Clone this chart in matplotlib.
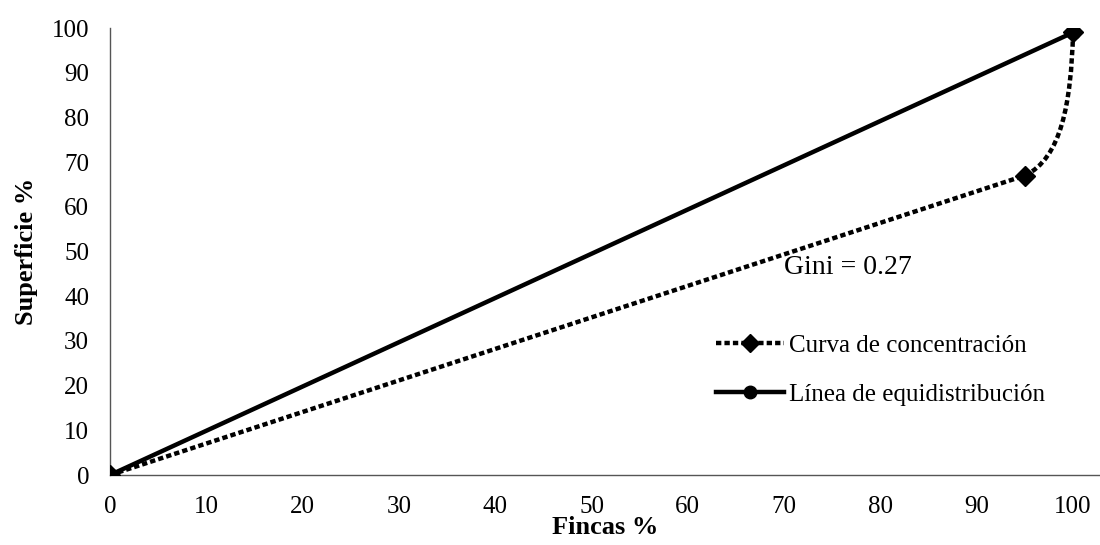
import matplotlib
matplotlib.use('Agg')
import matplotlib.pyplot as plt
from matplotlib.path import Path
from matplotlib.patches import PathPatch
from matplotlib.lines import Line2D

# data
fincas = [0, 95, 100]          # Fincas % (curva de concentracion)
superficie = [0, 67, 99]       # Superficie %
equi_x = [0, 100]              # linea de equidistribucion
equi_y = [0, 99]
x_ticks = [0, 10, 20, 30, 40, 50, 60, 70, 80, 90, 100]
y_ticks = [0, 10, 20, 30, 40, 50, 60, 70, 80, 90, 100]
gini_text = 'Gini = 0.27'

plt.rcParams['font.family'] = ['Liberation Serif', 'DejaVu Serif']

fig = plt.figure(figsize=(11, 5.45), dpi=100)
ax = fig.add_axes([0.1, 0.1284, 0.9, 0.8202])

# equidistribution line (circle markers sit under the diamonds)
ax.plot(equi_x, equi_y, color='black', lw=3.2, marker='o', markersize=10, zorder=2)

# smoothed concentration curve: straight first segment, bezier second one
x0, x1, x2 = fincas
y0, y1, y2 = superficie
verts = [(x0, y0), (x1, y1),
         (x1 + 0.75 * (x2 - x1), y1 + 0.12 * (y2 - y1)),
         (x2 - 0.04 * (x2 - x1), y2 - 0.5 * (y2 - y1)),
         (x2, y2)]
codes = [Path.MOVETO, Path.LINETO, Path.CURVE4, Path.CURVE4, Path.CURVE4]
curve = PathPatch(Path(verts, codes), facecolor='none', edgecolor='black',
                  lw=3.2, linestyle=(0, (1.2, 0.7)), capstyle='butt', zorder=3)
ax.add_patch(curve)
ax.plot(fincas, superficie, linestyle='none', marker='D', markersize=10,
        color='black', zorder=4)

ax.text(70, 46.5, gini_text, fontsize=20, va='center', ha='left', zorder=1)

h1 = Line2D([], [], color='black', lw=3.2, linestyle=(0, (1.2, 0.7)),
            marker='D', markersize=9)
h2 = Line2D([], [], color='black', lw=3.2, marker='o', markersize=9)
ax.legend([h1, h2], ['Curva de concentración', 'Línea de equidistribución'],
          loc='upper left', bbox_to_anchor=(0.589, 0.365), frameon=False,
          fontsize=18, handlelength=2.75, handletextpad=0.2, labelspacing=1.05)

ax.set_xlim(0, 102.8)
ax.set_ylim(0, 100)
ax.set_xticks(x_ticks)
ax.set_yticks(y_ticks)
ax.tick_params(axis='both', length=0, labelsize=18, pad=15)
for s in ['top', 'right']:
    ax.spines[s].set_visible(False)
for s in ['left', 'bottom']:
    ax.spines[s].set_color('#555555')
    ax.spines[s].set_linewidth(1)

ax.set_xlabel('Fincas %', fontsize=19, fontweight='bold', labelpad=-1)
ax.set_ylabel('Superficie %', fontsize=19, fontweight='bold', labelpad=10)

fig.savefig('out.png', dpi=100)
